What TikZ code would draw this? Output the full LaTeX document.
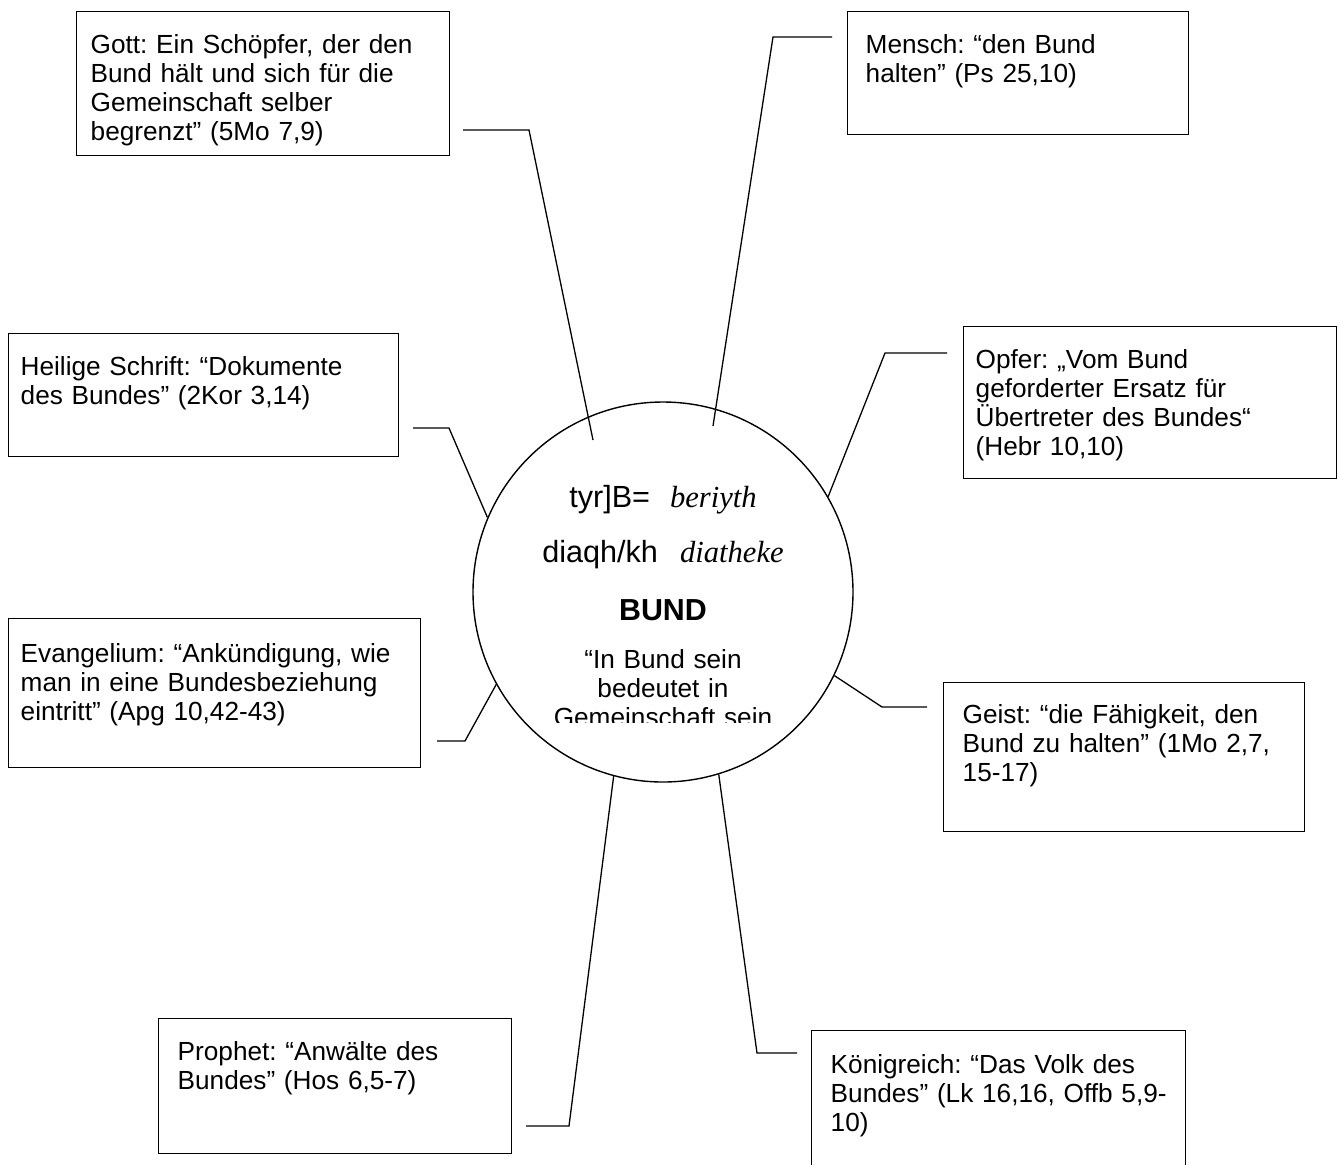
\documentclass[tikz,border=0pt]{standalone}
\usepackage{fontspec}
\setmainfont{Liberation Sans}
\newfontfamily\trsfont{Liberation Serif}
\frenchspacing

\tikzset{
  box/.style={draw, line width=.7pt, anchor=north west, inner ysep=0pt, align=left,
    font=\fontsize{13.1}{14.5}\selectfont},
  link/.style={line width=.65pt},
  kreis/.style={circle, draw, line width=.7pt, minimum size=190pt, inner sep=0pt}
}

\begin{document}
\begin{tikzpicture}[x=.5pt, y=-.5pt]
\useasboundingbox (0,0) rectangle (1340,1164);

% Mitte
\node[kreis] (bund) at (663,592) {};
\begin{scope}
\clip (470,440) rectangle (856,722);
\node[anchor=base, font=\fontsize{15.3}{17}\selectfont] (hebr) at (663,507) {tyr]B=\hspace{10pt}{\trsfont\itshape beriyth}};
\node[anchor=base, font=\fontsize{15.3}{17}\selectfont] (griech) at (663,562) {diaqh/kh\hspace{11pt}{\trsfont\itshape diatheke}};
\node[anchor=base, font=\fontsize{15.2}{17}\bfseries] (titel) at (663,620) {BUND};
\node[anchor=base, text width=110pt, align=center, font=\fontsize{13.1}{14.7}\selectfont] (def) at (663,668) {“In Bund sein\\ bedeutet in\\ Gemeinschaft sein};
\end{scope}

% Kaesten
\node[box, inner xsep=7pt, text width=172.5pt, text height=21pt, text depth=51pt] (gott) at (76,11)
  {Gott: Ein Schöpfer, der den\\ Bund hält und sich für die\\ Gemeinschaft selber\\ begrenzt” (5Mo 7,9)};
\node[box, inner xsep=9pt, text width=152.5pt, text height=21pt, text depth=40.5pt] (mensch) at (847,11)
  {Mensch: “den Bund\\ halten” (Ps 25,10)};
\node[box, inner xsep=6pt, text width=183pt, text height=21pt, text depth=40.5pt] (schrift) at (8,333)
  {Heilige Schrift: “Dokumente\\ des Bundes” (2Kor 3,14)};
\node[box, inner xsep=6pt, text width=174.5pt, text height=21pt, text depth=55pt] (opfer) at (963,326)
  {Opfer: „Vom Bund\\ geforderter Ersatz für\\ Übertreter des Bundes“\\ (Hebr 10,10)};
\node[box, inner xsep=6pt, text width=194pt, text height=22pt, text depth=52.5pt] (evang) at (8,618)
  {Evangelium: “Ankündigung, wie\\ man in eine Bundesbeziehung\\ eintritt” (Apg 10,42-43)};
\node[box, inner xsep=9.5pt, text width=161.5pt, text height=20.5pt, text depth=54pt] (geist) at (943,682)
  {Geist: “die Fähigkeit, den\\ Bund zu halten” (1Mo 2,7,\\ 15-17)};
\node[box, inner xsep=9.5pt, text width=157.5pt, text height=21pt, text depth=46.5pt] (prophet) at (158,1018)
  {Prophet: “Anwälte des\\ Bundes” (Hos 6,5-7)};
\node[box, inner xsep=9.5pt, text width=168pt, text height=21.5pt, text depth=51pt] (reich) at (811,1030)
  {Königreich: “Das Volk des\\ Bundes” (Lk 16,16, Offb 5,9-\\ 10)};

% Verbindungen
\coordinate (gott-a) at (463,130);
\coordinate (gott-b) at (529,130);
\coordinate (gott-c) at (593,440);
\draw[link] (gott-a) -- (gott-b) -- (gott-c);

\coordinate (mensch-a) at (832,37);
\coordinate (mensch-b) at (773,37);
\coordinate (mensch-c) at (713,426);
\draw[link] (mensch-a) -- (mensch-b) -- (mensch-c);

\coordinate (schrift-a) at (413,428);
\coordinate (schrift-b) at (449,428);
\draw[link] (schrift-a) -- (schrift-b) -- (bund.157);

\coordinate (opfer-a) at (947,353);
\coordinate (opfer-b) at (885,353);
\draw[link] (opfer-a) -- (opfer-b) -- (bund.30);

\coordinate (evang-a) at (437,741);
\coordinate (evang-b) at (465,741);
\draw[link] (evang-a) -- (evang-b) -- (bund.209);

\coordinate (geist-a) at (927,707);
\coordinate (geist-b) at (882,707);
\draw[link] (geist-a) -- (geist-b) -- (bund.334);

\coordinate (prophet-a) at (526,1126);
\coordinate (prophet-b) at (569,1126);
\draw[link] (prophet-a) -- (prophet-b) -- (bund.255);

\coordinate (reich-a) at (797,1053);
\coordinate (reich-b) at (757,1053);
\draw[link] (reich-a) -- (reich-b) -- (bund.287);
\end{tikzpicture}
\end{document}
